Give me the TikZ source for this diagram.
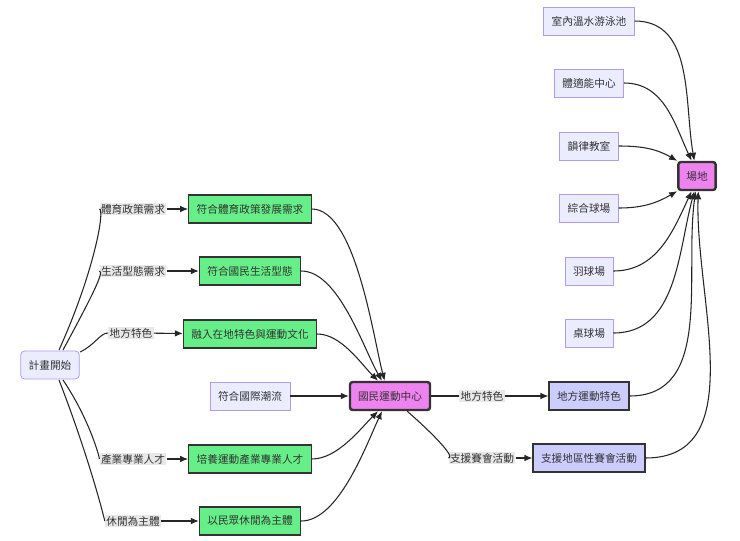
\documentclass[tikz,border=0pt]{standalone}
\usepackage{fontspec}
\setmainfont{Noto Sans CJK TC}
\usetikzlibrary{arrows.meta}
\definecolor{lav}{HTML}{ECECFF}
\definecolor{lavb}{HTML}{9370DB}
\definecolor{grn}{HTML}{66EE88}
\definecolor{vio}{HTML}{EE82EE}
\definecolor{blu}{HTML}{CCCCFF}
\definecolor{lbl}{HTML}{E8E8E8}
\begin{document}
\begin{tikzpicture}[x=0.75pt,y=-0.75pt,
 base/.style={draw,font=\fontsize{8}{9}\selectfont,text=black!80,minimum height=21pt,inner xsep=6pt},
 lv/.style={base,fill=lav,draw=lavb!70,line width=0.6pt},
 lvr/.style={lv,rounded corners=3pt},
 gr/.style={base,fill=grn,draw=black!80,line width=0.8pt},
 vi/.style={base,fill=vio,draw=black!80,line width=1.8pt,rounded corners=2pt},
 bl/.style={base,fill=blu,draw=black!80,line width=0.8pt},
 lab/.style={fill=lbl,font=\fontsize{8}{9}\selectfont,text=black!80,inner sep=1pt},
 ln/.style={draw=black!85,line width=0.8pt},
 ar/.style={ln,-{Latex[length=6pt,width=5pt]}}]
\useasboundingbox (0,0) rectangle (740,540);
\node[lvr] (s) at (50,365) {計畫開始};
\node[gr] (g1) at (250,209) {符合體育政策發展需求};
\node[gr] (g2) at (250,271) {符合國民生活型態};
\node[gr] (g3) at (250,334) {融入在地特色與運動文化};
\node[lv] (g4) at (250,396) {符合國際潮流};
\node[gr] (g5) at (250,459) {培養運動產業專業人才};
\node[gr] (g6) at (250,521) {以民眾休閒為主體};
\node[vi] (c) at (390,396) {國民運動中心};
\node[bl] (d1) at (589,396) {地方運動特色};
\node[bl] (d2) at (589,458) {支援地區性賽會活動};
\node[vi] (v) at (697,176) {場地};
\node[lv] (f1) at (589,21) {室內溫水游泳池};
\node[lv] (f2) at (589,83) {體適能中心};
\node[lv] (f3) at (589,146) {韻律教室};
\node[lv] (f4) at (589,208) {綜合球場};
\node[lv] (f5) at (589,271) {羽球場};
\node[lv] (f6) at (589,333) {桌球場};
\node[lab] (l1) at (133,209) {體育政策需求};
\node[lab] (l2) at (133,271) {生活型態需求};
\node[lab] (l3) at (131,333) {地方特色};
\node[lab] (l5) at (133,459) {產業專業人才};
\node[lab] (l6) at (133,521) {休閒為主體};
\node[lab] (l7) at (482,396) {地方特色};
\node[lab] (l8) at (482,458) {支援賽會活動};
\coordinate (s1) at (59,350);
\coordinate (s2) at (63,350);
\coordinate (s3) at (80,352);
\coordinate (s5) at (63,380);
\coordinate (s6) at (59,380);
\draw[ln] (s1) .. controls (95,270) and (105,209) .. (l1.west);
\draw[ln] (s2) .. controls (90,300) and (105,271) .. (l2.west);
\draw[ln] (s3) .. controls (95,345) and (100,333) .. (l3.west);
\draw[ln] (s5) .. controls (90,420) and (100,459) .. (l5.west);
\draw[ln] (s6) .. controls (90,460) and (105,521) .. (l6.west);
\draw[ar] (l1) -- (g1); \draw[ar] (l2) -- (g2); \draw[ar] (l3) -- (g3);
\draw[ar] (l5) -- (g5); \draw[ar] (l6) -- (g6);
\draw[ar] (g1.east) to[out=0,in=105,looseness=0.6] ([xshift=-4pt]c.north);
\draw[ar] (g2.east) to[out=0,in=120,looseness=0.7] ([xshift=-6pt]c.north);
\draw[ar] (g3.east) to[out=0,in=135,looseness=0.8] ([xshift=-9pt]c.north);
\draw[ar] (g4) -- (c);
\draw[ar] (g5.east) to[out=0,in=-135,looseness=0.8] ([xshift=-9pt]c.south);
\draw[ar] (g6.east) to[out=0,in=-115,looseness=0.7] ([xshift=-6pt]c.south);
\draw[ln] (c) -- (l7); \draw[ar] (l7) -- (d1);
\draw[ln] ([xshift=-18pt]c.south east) .. controls (440,440) and (455,458) .. (l8.west); \draw[ar] (l8) -- (d2);
\draw[ar] (f1.east) to[out=0,in=100] ([xshift=-2pt]v.north);
\draw[ar] (f2.east) to[out=0,in=115] ([xshift=-4pt]v.north);
\draw[ar] (f3.east) to[out=0,in=150] (v.north west);
\draw[ar] (f4.east) to[out=0,in=-150] (v.south west);
\draw[ar] (f5.east) to[out=0,in=-115] ([xshift=-4pt]v.south);
\draw[ar] (f6.east) to[out=0,in=-105] ([xshift=-2pt]v.south);
\draw[ar] (d1.east) to[out=0,in=-98] ([xshift=-1pt]v.south);
\draw[ar] (d2.east) to[out=0,in=-92] ([xshift=1pt]v.south);
\end{tikzpicture}
\end{document}
